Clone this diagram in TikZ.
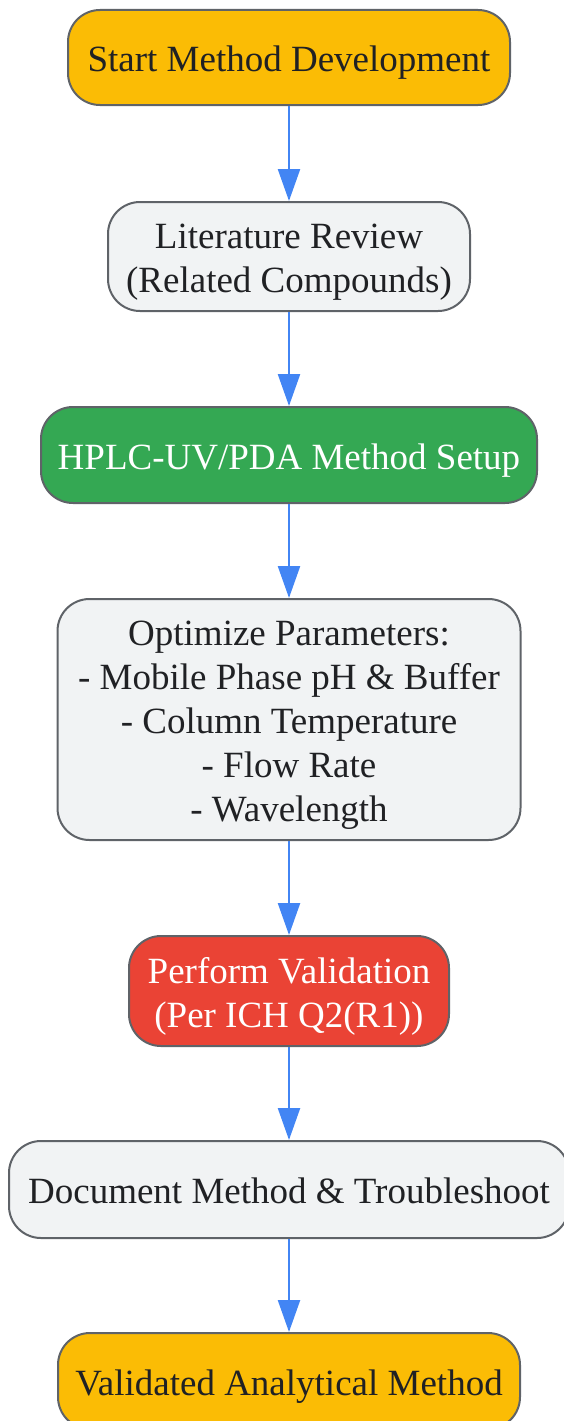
\documentclass[tikz,border=0pt]{standalone}
\usepackage{fontspec}
\setmainfont{Liberation Serif}
\usetikzlibrary{arrows.meta}
\definecolor{boxline}{HTML}{5F6368}
\definecolor{ylw}{HTML}{FBBC05}
\definecolor{grn}{HTML}{34A853}
\definecolor{rd}{HTML}{EA4335}
\definecolor{lgray}{HTML}{F1F3F4}
\definecolor{txt}{HTML}{202124}
\definecolor{arr}{HTML}{4285F4}
\newcommand\mytopstrut{\rule{0pt}{0.98em}}
\newcommand\mybotstrut{\rule[-0.22em]{0pt}{0.22em}}
\tikzset{
  box/.style={draw=boxline, line width=2pt, rounded corners=32pt, align=center,
    inner sep=0pt, text=txt, font=\fontsize{37}{44}\selectfont},
  conn/.style={draw=arr, line width=2.4pt, -{Triangle[width=22pt,length=32pt]}},
}
\begin{document}
\begin{tikzpicture}[x=1pt,y=-1pt]
\useasboundingbox (0,0) rectangle (564,1421);
\node[box, fill=ylw, minimum width=442pt, minimum height=95pt] (n1) at (289,57.5) {\mytopstrut Start Method Development\mybotstrut};
\node[box, fill=lgray, minimum width=362pt, minimum height=109pt] (n2) at (289,256.5) {\mytopstrut Literature Review\\(Related Compounds)\mybotstrut};
\node[box, fill=grn, text=white, minimum width=496pt, minimum height=96pt] (n3) at (289,455) {\mytopstrut HPLC-UV/PDA Method Setup\mybotstrut};
\node[box, fill=lgray, minimum width=463pt, minimum height=241pt] (n4) at (289,719.5) {\mytopstrut Optimize Parameters:\\- Mobile Phase pH \& Buffer\\- Column Temperature\\- Flow Rate\\- Wavelength\mybotstrut};
\node[box, fill=rd, text=white, minimum width=320pt, minimum height=110pt] (n5) at (289,991) {\mytopstrut Perform Validation\\(Per ICH Q2(R1))\mybotstrut};
\node[box, fill=lgray, minimum width=560pt, minimum height=97pt] (n6) at (289,1189.5) {\mytopstrut Document Method \& Troubleshoot\mybotstrut};
\node[box, fill=ylw, minimum width=462pt, minimum height=96pt] (n7) at (289,1381) {\mytopstrut Validated Analytical Method\mybotstrut};
\draw[conn] (n1) -- (n2);
\draw[conn] (n2) -- (n3);
\draw[conn] (n3) -- (n4);
\draw[conn] (n4) -- (n5);
\draw[conn] (n5) -- (n6);
\draw[conn] (n6) -- (n7);
\end{tikzpicture}
\end{document}
